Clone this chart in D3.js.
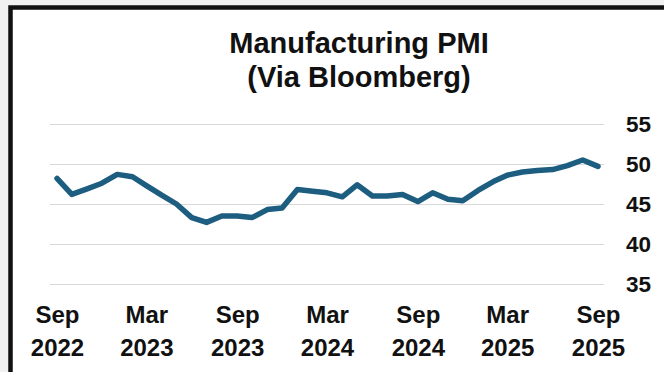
<!DOCTYPE html>
<html>
<head>
<meta charset="utf-8">
<script src="https://cdn.jsdelivr.net/npm/d3@7/dist/d3.min.js"></script>
<style>
  html, body { margin: 0; padding: 0; background: #f1f1f1; }
  svg { display: block; }
  text { font-family: "Liberation Sans", Arial, Helvetica, sans-serif; font-weight: bold; fill: #111; }
</style>
</head>
<body>
<svg id="chart" width="664" height="372"></svg>
<script>
// Monthly manufacturing PMI readings, Sep 2022 – Sep 2025
const months = [
  "2022-09","2022-10","2022-11","2022-12",
  "2023-01","2023-02","2023-03","2023-04","2023-05","2023-06",
  "2023-07","2023-08","2023-09","2023-10","2023-11","2023-12",
  "2024-01","2024-02","2024-03","2024-04","2024-05","2024-06",
  "2024-07","2024-08","2024-09","2024-10","2024-11","2024-12",
  "2025-01","2025-02","2025-03","2025-04","2025-05","2025-06",
  "2025-07","2025-08","2025-09"
];
const pmi = [
  48.2, 46.2, 46.9, 47.6,
  48.7, 48.4, 47.3, 46.1, 45.0, 43.3,
  42.7, 43.5, 43.5, 43.3, 44.3, 44.5,
  46.8, 46.6, 46.4, 45.9, 47.4, 46.0,
  46.0, 46.2, 45.3, 46.4, 45.6, 45.4,
  46.7, 47.8, 48.6, 49.0, 49.2, 49.3,
  49.8, 50.5, 49.7
];

const xTickMonths = ["2022-09","2023-03","2023-09","2024-03","2024-09","2025-03","2025-09"];
const yTicks = [35, 40, 45, 50, 55];
const titleLines = ["Manufacturing PMI", "(Via Bloomberg)"];

const parse = d3.timeParse("%Y-%m");
const data = months.map((m, i) => ({ date: parse(m), value: pmi[i] }));

const svg = d3.select("#chart");

// white panel with a heavy black frame on top and left
svg.append("rect")
  .attr("x", 10.5).attr("y", 7.5)
  .attr("width", 700).attr("height", 400)
  .attr("fill", "#fff")
  .attr("stroke", "#111")
  .attr("stroke-width", 4.5);

const x = d3.scaleTime()
  .domain(d3.extent(data, d => d.date))
  .range([57, 598]);

const y = d3.scaleLinear()
  .domain([35, 55])
  .range([284, 124]);

const gridLeft = 50, gridRight = 604;

// y axis: labels on the right, tick lines stretched into gridlines
const yAxis = svg.append("g")
  .attr("transform", `translate(${gridRight},0)`)
  .call(d3.axisRight(y).tickValues(yTicks).tickSizeInner(-(gridRight - gridLeft)).tickSizeOuter(0).tickPadding(22));
yAxis.select(".domain").remove();
yAxis.selectAll(".tick line").attr("stroke", "#d8d8d8").attr("stroke-width", 1.2);
yAxis.selectAll(".tick text")
  .style("font-size", "22.5px")
  .attr("fill", "#111");

// x axis: two-line month / year labels
const fmtMon = d3.timeFormat("%b");
const fmtYear = d3.timeFormat("%Y");
const xAxis = svg.append("g")
  .attr("transform", "translate(0,300)")
  .call(d3.axisBottom(x).tickValues(xTickMonths.map(parse)).tickSize(0).tickPadding(0).tickFormat(() => ""));
xAxis.select(".domain").remove();
xAxis.selectAll(".tick text").each(function(d) {
  const t = d3.select(this)
    .attr("y", 0).attr("dy", null)
    .style("font-size", "24px")
    .attr("fill", "#111");
  t.append("tspan").attr("x", 0).attr("y", 23).text(fmtMon(d));
  t.append("tspan").attr("x", 0).attr("y", 56).text(fmtYear(d));
});

// PMI line
const line = d3.line()
  .x(d => x(d.date))
  .y(d => y(d.value));

svg.append("path")
  .datum(data)
  .attr("fill", "none")
  .attr("stroke", "#1c5d80")
  .attr("stroke-width", 5.5)
  .attr("stroke-linejoin", "round")
  .attr("stroke-linecap", "round")
  .attr("d", line);

// title
svg.append("text")
  .attr("x", 359)
  .attr("text-anchor", "middle")
  .style("font-size", "29px")
  .selectAll("tspan")
  .data(titleLines)
  .join("tspan")
  .attr("x", 359)
  .attr("y", (d, i) => 53 + i * 34)
  .text(d => d);
</script>
</body>
</html>
